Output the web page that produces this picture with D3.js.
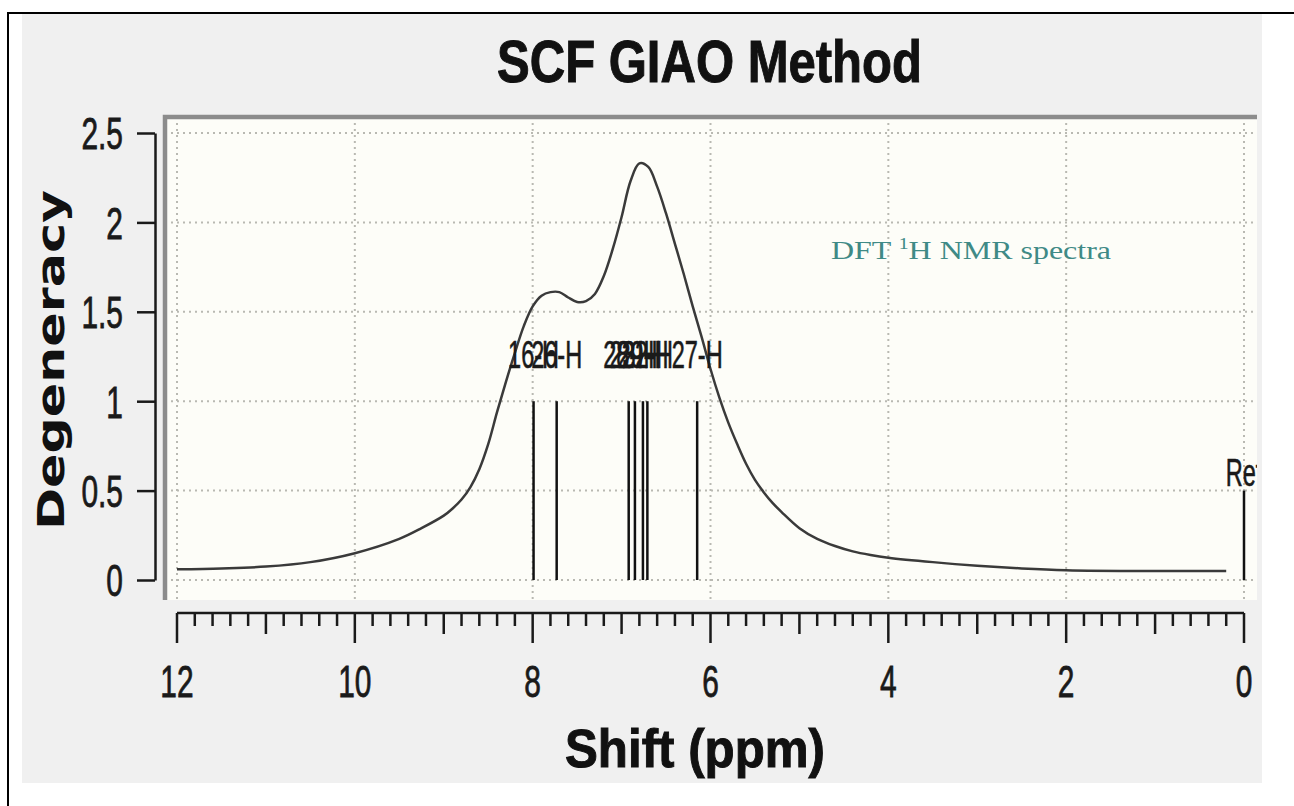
<!DOCTYPE html>
<html>
<head>
<meta charset="utf-8">
<script src="https://cdn.jsdelivr.net/npm/d3@7"></script>
<style>
  html, body { margin: 0; padding: 0; background: #fff; }
  svg { display: block; }
</style>
</head>
<body>
<div id="chart"></div>
<script>
// SCF GIAO Method - simulated 1H NMR spectrum with stick peaks

// broadened spectrum (ppm, degeneracy)
const curvePpm = [12, 11.5, 11, 10.5, 10, 9.5, 9.25, 9.0, 8.9, 8.8, 8.7, 8.6, 8.5, 8.4, 8.3, 8.2, 8.1, 8.0, 7.9, 7.8,
    7.7, 7.6, 7.5, 7.4, 7.3, 7.2, 7.1, 7.0, 6.9, 6.8, 6.7, 6.6, 6.5, 6.4, 6.3, 6.2, 6.1, 6.0,
    5.9, 5.8, 5.7, 5.6, 5.5, 5.4, 5.3, 5.2, 5.0, 4.8, 4.6, 4.4, 4.2, 4.0, 3.5, 3.0, 2.5, 2.0, 1.0, 0.2];
const curveDeg = [0.06, 0.065, 0.075, 0.1, 0.15, 0.23, 0.29, 0.36, 0.4, 0.45, 0.52, 0.62, 0.76, 0.94, 1.11, 1.27, 1.42, 1.53, 1.59, 1.61,
    1.61, 1.58, 1.555, 1.56, 1.6, 1.7, 1.85, 2.03, 2.23, 2.33, 2.31, 2.2, 2.05, 1.88, 1.71, 1.53, 1.36, 1.18,
    1.02, 0.88, 0.76, 0.65, 0.56, 0.49, 0.43, 0.38, 0.29, 0.23, 0.19, 0.16, 0.14, 0.125, 0.1, 0.08, 0.065, 0.055, 0.05, 0.05];

// stick peaks
const stickPpm = [7.99, 7.73, 6.92, 6.85, 6.76, 6.71, 6.15, 0];
const stickDeg = [1, 1, 1, 1, 1, 1, 1, 0.5];
const stickLabels = ['16-H', '26-H', '28-H', '23-H', '29-H', '22-H', '27-H', 'Ref'];

// axis ticks
const xTicks = [12, 10, 8, 6, 4, 2, 0];
const yTicks = [0, 0.5, 1, 1.5, 2, 2.5];

const W = 1294, H = 806;
const plot = { left: 165, top: 117, right: 1257, bottom: 600 };

const svg = d3.select('#chart').append('svg')
    .attr('width', W)
    .attr('height', H);

// page frame
svg.append('rect').attr('x', 22).attr('y', 14).attr('width', 1240).attr('height', 769).attr('fill', '#f0f0f0');
svg.append('line').attr('x1', 7).attr('x2', W).attr('y1', 13).attr('y2', 13).attr('stroke', '#000').attr('stroke-width', 2);
svg.append('line').attr('x1', 8).attr('x2', 8).attr('y1', 13).attr('y2', H).attr('stroke', '#000').attr('stroke-width', 2);

const x = d3.scaleLinear().domain([12, 0]).range([177, 1244]);
const y = d3.scaleLinear().domain([0, 2.5]).range([580, 133]);

// plot background
svg.append('rect')
    .attr('x', plot.left).attr('y', plot.top)
    .attr('width', plot.right - plot.left).attr('height', plot.bottom - plot.top)
    .attr('fill', '#fdfdf8');

svg.append('clipPath').attr('id', 'clip')
    .append('rect')
    .attr('x', plot.left).attr('y', plot.top)
    .attr('width', plot.right - plot.left).attr('height', plot.bottom - plot.top);

// dotted grid
const grid = svg.append('g').attr('stroke', '#b9b9b2').attr('stroke-width', 2).attr('stroke-dasharray', '2,4');
grid.selectAll('.gx').data(xTicks).enter().append('line')
    .attr('x1', d => x(d)).attr('x2', d => x(d))
    .attr('y1', plot.top).attr('y2', plot.bottom);
grid.selectAll('.gy').data(yTicks).enter().append('line')
    .attr('x1', plot.left).attr('x2', plot.right)
    .attr('y1', d => y(d)).attr('y2', d => y(d));

// plot frame (top + left only, grey)
svg.append('path')
    .attr('d', `M${plot.left},${plot.bottom} V${plot.top} H${plot.right}`)
    .attr('fill', 'none')
    .attr('stroke', '#8c8c8c')
    .attr('stroke-width', 4.5);

const inner = svg.append('g').attr('clip-path', 'url(#clip)');

// spectrum line
const curveData = curvePpm.map((p, i) => ({ ppm: p, deg: curveDeg[i] }));
const line = d3.line()
    .x(d => x(d.ppm))
    .y(d => y(d.deg))
    .curve(d3.curveCatmullRom.alpha(0.5));

inner.append('path')
    .datum(curveData)
    .attr('d', line)
    .attr('fill', 'none')
    .attr('stroke', '#3a3a3a')
    .attr('stroke-width', 2.5);

// sticks
const sticks = stickPpm.map((p, i) => ({ ppm: p, deg: stickDeg[i], label: stickLabels[i] }));
inner.selectAll('.stick').data(sticks).enter().append('line')
    .attr('class', 'stick')
    .attr('x1', d => x(d.ppm)).attr('x2', d => x(d.ppm))
    .attr('y1', y(0)).attr('y2', d => y(d.deg))
    .attr('stroke', '#111')
    .attr('stroke-width', 2.5);

inner.selectAll('.stick-label').data(sticks).enter().append('g')
    .attr('class', 'stick-label')
    .attr('transform', d => `translate(${x(d.ppm)},${y(d.deg) - (d.deg >= 1 ? 33 : 5)})`)
    .append('text')
    .attr('transform', 'scale(0.62,1)')
    .attr('text-anchor', 'middle')
    .attr('font-family', 'Liberation Sans, Arial, sans-serif')
    .attr('font-size', 38)
    .attr('fill', '#1a1a1a')
    .attr('stroke', '#1a1a1a')
    .attr('stroke-width', 0.6)
    .text(d => d.label);

// annotation
const ann = svg.append('text')
    .attr('x', 831).attr('y', 259)
    .attr('textLength', 280).attr('lengthAdjust', 'spacingAndGlyphs')
    .attr('font-family', 'Liberation Serif, Times New Roman, serif')
    .attr('font-size', 26)
    .attr('fill', '#3f8a86');
ann.append('tspan').text('DFT ');
ann.append('tspan').attr('font-size', 16).attr('dy', -10).text('1');
ann.append('tspan').attr('dy', 10).text('H NMR spectra');

// y axis
const yAxis = svg.append('g')
    .attr('transform', 'translate(155,0)')
    .call(d3.axisLeft(y).tickValues(yTicks).tickSize(18).tickSizeOuter(0).tickFormat(d3.format('')));
yAxis.select('.domain').attr('stroke', '#1a1a1a').attr('stroke-width', 2.5);
yAxis.selectAll('.tick line').attr('stroke', '#1a1a1a').attr('stroke-width', 2.5);
yAxis.selectAll('.tick text')
    .attr('x', -32 / 0.68)
    .attr('dy', '0.36em')
    .attr('transform', 'scale(0.68,1)')
    .attr('font-family', 'Liberation Sans, Arial, sans-serif')
    .attr('font-size', 44)
    .attr('fill', '#1a1a1a')
    .attr('stroke', '#1a1a1a')
    .attr('stroke-width', 0.8);

// x axis with minor ticks
const xAxisG = svg.append('g').attr('transform', 'translate(0,613)');
xAxisG.append('line')
    .attr('x1', x(12)).attr('x2', x(0))
    .attr('stroke', '#1a1a1a').attr('stroke-width', 2.5);
const minor = d3.range(0, 61).map(i => 12 - i * 0.2);
xAxisG.selectAll('.mt').data(minor).enter().append('line')
    .attr('x1', d => x(d)).attr('x2', d => x(d))
    .attr('y1', 0)
    .attr('y2', (d, i) => i % 10 === 0 ? 30 : (i % 5 === 0 ? 21 : 13))
    .attr('stroke', '#1a1a1a').attr('stroke-width', 2.5);
xAxisG.selectAll('.xl').data(xTicks).enter().append('text')
    .attr('transform', d => `translate(${x(d)},0) scale(0.68,1)`)
    .attr('y', 84)
    .attr('text-anchor', 'middle')
    .attr('font-family', 'Liberation Sans, Arial, sans-serif')
    .attr('font-size', 44)
    .attr('fill', '#1a1a1a')
    .attr('stroke', '#1a1a1a')
    .attr('stroke-width', 0.8)
    .text(d => d);

// titles
svg.append('text')
    .attr('x', 497).attr('y', 82)
    .attr('textLength', 425).attr('lengthAdjust', 'spacingAndGlyphs')
    .attr('font-family', 'Liberation Sans, Arial, sans-serif')
    .attr('font-weight', 'bold')
    .attr('font-size', 60)
    .attr('fill', '#111')
    .attr('stroke', '#111')
    .attr('stroke-width', 1)
    .text('SCF GIAO Method');

svg.append('text')
    .attr('x', 565).attr('y', 767)
    .attr('textLength', 260).attr('lengthAdjust', 'spacingAndGlyphs')
    .attr('font-family', 'Liberation Sans, Arial, sans-serif')
    .attr('font-weight', 'bold')
    .attr('font-size', 54)
    .attr('fill', '#111')
    .attr('stroke', '#111')
    .attr('stroke-width', 1)
    .text('Shift (ppm)');

svg.append('text')
    .attr('transform', 'translate(64,530) rotate(-90)')
    .attr('textLength', 340).attr('lengthAdjust', 'spacingAndGlyphs')
    .attr('font-family', 'DejaVu Sans, Verdana, sans-serif')
    .attr('font-weight', 'bold')
    .attr('font-size', 38)
    .attr('fill', '#111')
    .text('Degeneracy');
</script>
</body>
</html>
